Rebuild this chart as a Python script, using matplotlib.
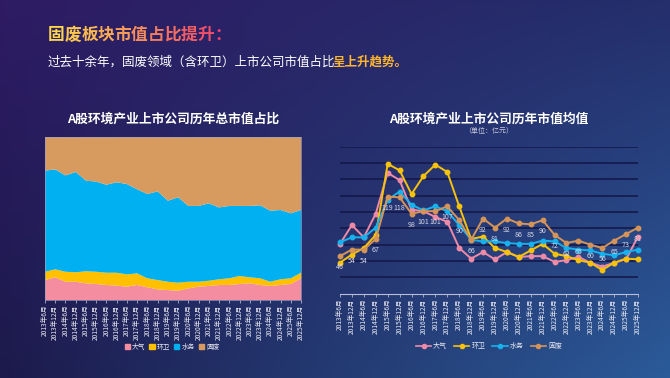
import numpy as np
import matplotlib

matplotlib.use("Agg")
import matplotlib.pyplot as plt
from matplotlib.colors import to_rgb
from matplotlib.lines import Line2D
from matplotlib.patches import Patch

plt.rcParams["font.family"] = ["Noto Sans CJK SC", "DejaVu Sans"]

W, H = 670, 378

periods = [
    "2013年6月", "2013年12月", "2014年6月", "2014年12月", "2015年6月", "2015年12月",
    "2016年6月", "2016年12月", "2017年6月", "2017年12月", "2018年6月", "2018年12月",
    "2019年6月", "2019年12月", "2020年6月", "2020年12月", "2021年6月", "2021年12月",
    "2022年6月", "2022年12月", "2023年6月", "2023年12月", "2024年6月", "2024年12月",
    "2025年6月", "2025年12月",
]
sectors = ["大气", "环卫", "水务", "固废"]

# share of total market value, %
share_air = [12.2, 13.9, 11.2, 11.2, 10.2, 9.8, 9.2, 8.8, 8.2, 9.2, 7.8, 6.5, 6.1,
             5.7, 7.1, 8.2, 8.6, 9.2, 9.2, 9.8, 10.2, 9.2, 8.6, 9.2, 9.8, 13.3]
share_sanitation = [5.1, 4.9, 6.1, 5.8, 7.4, 7.5, 7.5, 7.9, 7.5, 7.1, 5.5, 5.7, 5.1,
                    4.9, 4.1, 3.0, 3.2, 3.5, 4.1, 4.9, 3.7, 4.1, 2.6, 3.5, 3.5, 3.4]
share_water = [61.9, 61.2, 59.0, 61.4, 55.5, 55.2, 53.9, 55.4, 55.3, 51.5, 51.6, 54.3, 49.6,
               52.3, 46.4, 46.4, 47.4, 44.0, 44.3, 42.9, 43.7, 44.7, 43.5, 42.4, 39.8, 38.4]
share_waste = [20.8, 20.0, 23.7, 21.6, 26.9, 27.5, 29.4, 27.9, 29.0, 32.2, 35.1, 33.5, 39.2,
               37.1, 42.4, 42.4, 40.8, 43.3, 42.4, 42.4, 42.4, 42.0, 45.3, 44.9, 46.9, 44.9]

# average market value, 亿元
avg_air = [61, 84, 69, 98, 148, 139, 103, 101, 94, 88, 56, 43, 51,
           42, 51, 45, 46, 46, 39, 41, 45, 38, 33, 38, 42, 70]
avg_sanitation = [38, 48, 56, 72, 159, 151, 122, 144, 158, 149, 107, 67, 70,
                  56, 51, 45, 53, 61, 49, 46, 41, 38, 29, 38, 43, 42]
avg_water = [63, 69, 69, 81, 115, 125, 109, 102, 107, 101, 84, 66, 64,
             64, 62, 61, 61, 65, 64, 56, 54, 53, 49, 47, 51, 54]
avg_waste = [46, 54, 54, 67, 119, 118, 98, 101, 101, 107, 90, 66, 92,
             81, 92, 86, 85, 90, 72, 62, 65, 60, 56, 65, 73, 81]

area_colors = ["#f58da0", "#ffc000", "#00b0f0", "#d79b5f"]
line_colors = ["#ef8aa6", "#f7c20a", "#17b2ee", "#d49459"]

fig = plt.figure(figsize=(W / 100, H / 100), dpi=100)

# background gradient
bg = fig.add_axes([0, 0, 1, 1])
tl, tr = np.array(to_rgb("#2e1b64")), np.array(to_rgb("#242f6c"))
bl, br = np.array(to_rgb("#1c1a4c")), np.array(to_rgb("#2b5b99"))
u = np.linspace(0, 1, 200)[None, :, None]
v = np.linspace(0, 1, 120)[:, None, None]
img = (1 - v) * ((1 - u) * tl + u * tr) + v * ((1 - u) * bl + u * br)
bg.imshow(np.clip(img, 0, 1), aspect="auto", extent=[0, 1, 0, 1])
bg.set_axis_off()


def fx(px):
    return px / W


def fy(py):
    return 1 - py / H


# headline with per-character gradient
title = "固废板块市值占比提升："
c0, c1 = np.array(to_rgb("#ffd84a")), np.array(to_rgb("#f0406c"))
for i, ch in enumerate(title):
    t = i / (len(title) - 1)
    fig.text(fx(48 + i * 16.6), fy(35), ch, color=(1 - t) * c0 + t * c1,
             fontsize=12, fontweight="bold", va="center", ha="left")

sub1 = fig.text(fx(48), fy(62), "过去十余年，固废领域（含环卫）上市公司市值占比",
                color="white", fontsize=9, va="center", ha="left")
renderer = fig.canvas.get_renderer()
bb = sub1.get_window_extent(renderer)
fig.text((bb.x1 - 3) / W, fy(62), "呈上升趋势。", color="#ffb52e", fontsize=9,
         fontweight="bold", va="center", ha="left")

# left: stacked share area
x = np.arange(len(periods))
ax1 = fig.add_axes([fx(45), fy(300), fx(256), 163.3 / H])
ax1.stackplot(x, share_air, share_sanitation, share_water, share_waste,
              colors=area_colors, linewidth=0)
ax1.set_xlim(0, len(periods) - 1)
ax1.set_ylim(0, 100)
ax1.set_yticks([])
ax1.set_xticks(x)
ax1.set_xticklabels(periods, rotation=90, fontsize=4.8, color="#e8e8f2")
ax1.tick_params(axis="x", length=2, width=0.5, color="#c8cce0", pad=1.5)
for s in ax1.spines.values():
    s.set_color("#9aa0c0")
    s.set_linewidth(0.5)
fig.text(fx(173), fy(119), "A股环境产业上市公司历年总市值占比", color="white",
         fontsize=9.2, fontweight="bold", ha="center", va="center")
handles = [Patch(color=c) for c in area_colors]
fig.legend(handles, sectors, loc="center", bbox_to_anchor=(fx(172), fy(347)),
           ncol=4, frameon=False, fontsize=4.8, labelcolor="#e8e8f2",
           handlelength=0.8, handleheight=0.8, handletextpad=0.3, columnspacing=0.6)

# right: average market value lines
ax2 = fig.add_axes([fx(340), fy(293.7), fx(298), 147 / H])
ax2.set_facecolor("none")
for vals, c in zip([avg_air, avg_sanitation, avg_water, avg_waste], line_colors):
    ax2.plot(x, vals, color=c, lw=1.4, marker="o", ms=3.2, clip_on=False, zorder=3)
for xi, v in zip(x, avg_waste):
    ax2.annotate(str(v), (xi, v), xytext=(0, -8), textcoords="offset points",
                 ha="center", va="center", fontsize=5.1, color="#d6d8e8", zorder=4)
ax2.set_xlim(0, len(periods) - 1)
ax2.set_ylim(0, 180)
ax2.set_yticks(np.arange(20, 181, 20))
ax2.tick_params(axis="y", length=0, labelleft=False)
ax2.grid(axis="y", color="#15194a", lw=1.2)
ax2.set_axisbelow(True)
for k in ["top", "right", "left"]:
    ax2.spines[k].set_visible(False)
ax2.spines["bottom"].set_color("#b8bcd4")
ax2.spines["bottom"].set_linewidth(0.8)
ax2.set_xticks(x)
ax2.set_xticklabels(periods, rotation=90, fontsize=4.8, color="#e8e8f2")
ax2.tick_params(axis="x", length=2, width=0.5, color="#c8cce0", pad=1.5)
fig.text(fx(489), fy(119), "A股环境产业上市公司历年市值均值", color="white",
         fontsize=9.2, fontweight="bold", ha="center", va="center")
fig.text(fx(489), fy(131.5), "（单位：亿元）", color="#c8cadc", fontsize=5,
         ha="center", va="center")
line_handles = [Line2D([0], [0], color=c, lw=1.2, marker="o", ms=3) for c in line_colors]
fig.legend(line_handles, sectors, loc="center", bbox_to_anchor=(fx(489), fy(346)),
           ncol=4, frameon=False, fontsize=5, labelcolor="#e8e8f2",
           handlelength=2.2, handletextpad=0.3, columnspacing=1.0)

fig.savefig("out.png", dpi=100)
